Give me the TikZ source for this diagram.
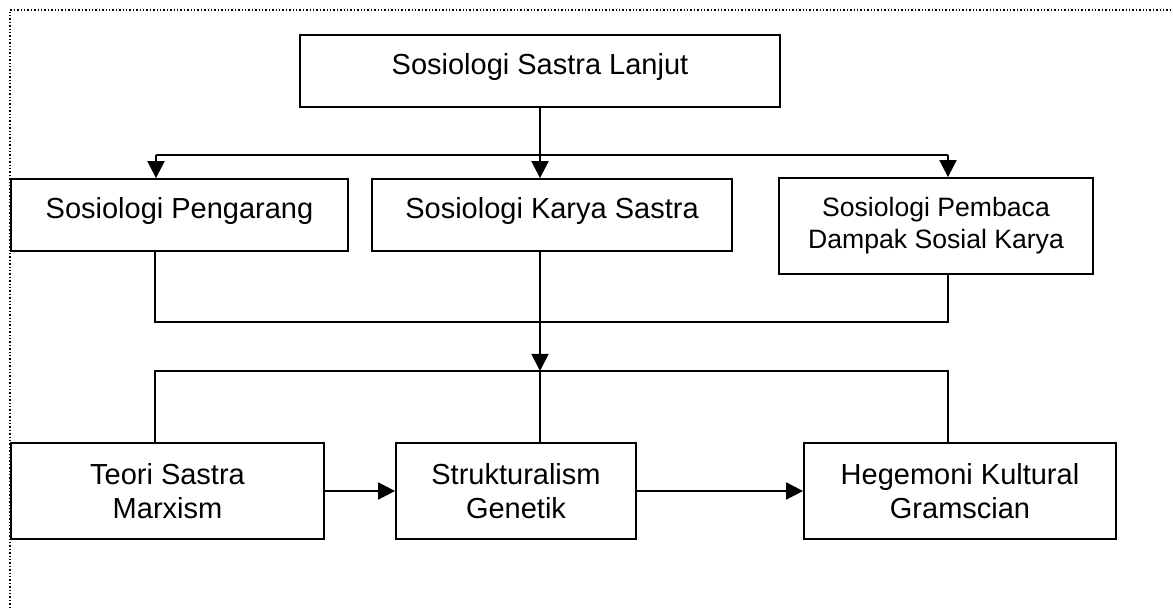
\documentclass[tikz,border=0pt]{standalone}
\usepackage{fontspec}
\setmainfont{Liberation Sans}
\usetikzlibrary{arrows.meta}

\begin{document}
\begin{tikzpicture}[x=0.5pt,y=-0.5pt,line width=0.9pt,
  box/.style={draw,line width=0.9pt,inner sep=0pt,align=center,font=\fontsize{14.5}{17}\selectfont},
  oneline/.style={text height=10pt,text depth=6.5pt},
  arr/.style={-{Triangle[length=8.5pt,width=8.5pt]}}]
\useasboundingbox (0,0) rectangle (1173,608);
\draw[line width=0.7pt,dash pattern=on 0.7pt off 1pt] (10,608) -- (10,10) -- (1173,10);
% boxes
\node[box,oneline,minimum width=240pt,minimum height=36pt] (top) at (540,71) {Sosiologi Sastra Lanjut};
\node[box,oneline,minimum width=168.5pt,minimum height=36pt] (peng) at (179.5,215) {Sosiologi Pengarang};
\node[box,oneline,minimum width=180pt,minimum height=36pt] (karya) at (552,215) {Sosiologi Karya Sastra};
\node[box,minimum width=157pt,minimum height=48pt,font=\fontsize{13.3}{16}\selectfont] (pemb) at (936,226) {Sosiologi Pembaca\\Dampak Sosial Karya};
\node[box,minimum width=156.5pt,minimum height=48pt] (teori) at (167.5,491) {Teori Sastra\\Marxism};
\node[box,minimum width=120pt,minimum height=48pt] (struk) at (516,491) {Strukturalism\\Genetik};
\node[box,minimum width=156pt,minimum height=48pt] (hege) at (960,491) {Hegemoni Kultural\\Gramscian};
% lines
\coordinate (busA) at (156,155);
\coordinate (busB) at (948,155);
\coordinate (busC) at (155,322);
\coordinate (busD) at (948,322);
\coordinate (busE) at (155,371);
\coordinate (busF) at (948,371);
\draw (top.south) -- (top.south |- busA);
\draw (busA) -- (busB);
\draw[arr] (busA) -- (busA |- peng.north);
\draw[arr] (top.south |- busA) -- (top.south |- karya.north);
\draw[arr] (busB) -- (busB |- pemb.north);
\draw (busC |- peng.south) -- (busC) -- (busD) -- (busD |- pemb.south);
\draw[arr] (top.south |- karya.south) -- (top.south |- busE);
\draw (busE |- teori.north) -- (busE) -- (busF) -- (busF |- hege.north);
\draw (top.south |- busE) -- (top.south |- struk.north);
\draw[arr] (teori.east) -- (struk.west);
\draw[arr] (struk.east) -- (hege.west);
\end{tikzpicture}
\end{document}
